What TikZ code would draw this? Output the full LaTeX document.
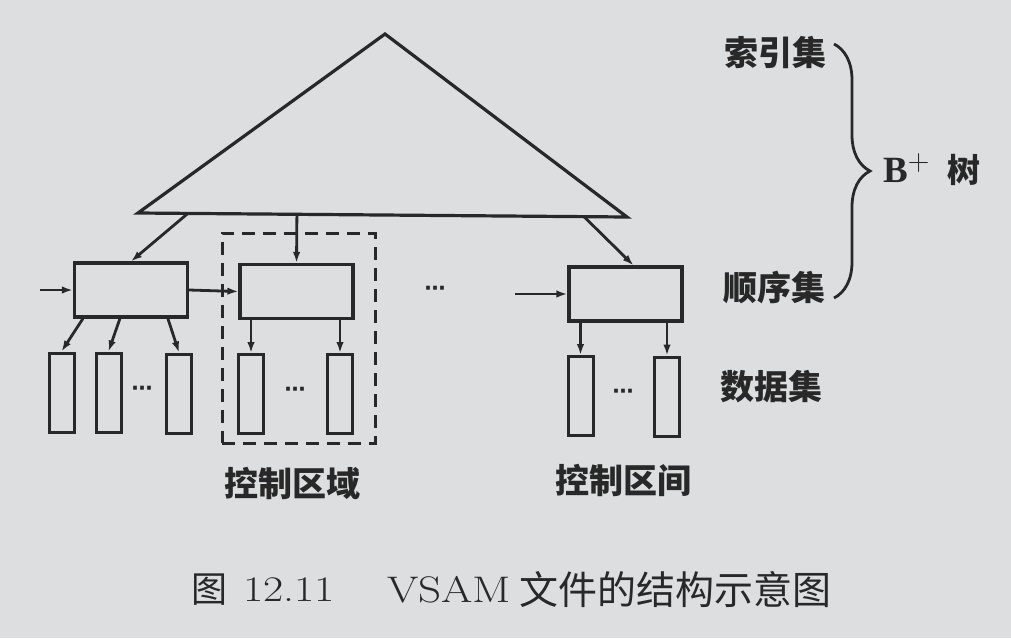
\documentclass[tikz,border=0pt]{standalone}
\usepackage{fontspec}
\usepackage{graphicx}
\newfontfamily\cjk{Noto Sans CJK SC}
\newfontfamily\djv{DejaVu Sans}
\newfontfamily\tms{Liberation Serif}
\usetikzlibrary{arrows.meta,decorations.pathreplacing,calc}
\definecolor{paper}{RGB}{220,222,223}
\definecolor{ink}{RGB}{40,40,40}
\tikzset{
  seqbox/.style={draw=ink,line width=3.2pt,minimum width=113pt,minimum height=54pt,inner sep=0pt},
  databox/.style={draw=ink,line width=3pt,minimum width=25pt,minimum height=79pt,inner sep=0pt},
  arr/.style={draw=ink,line width=2.8pt,-{Latex[length=11pt,width=7.5pt]}},
  lbl/.style={text=ink,font=\cjk\bfseries\fontsize{34}{34}\selectfont,inner sep=0pt},
  dots/.style={text=ink,font=\djv\bfseries\fontsize{21}{21}\selectfont,inner sep=0pt},
  captxt/.style={text=ink,anchor=west,inner sep=0pt}
}
\begin{document}
\begin{tikzpicture}[x=1pt,y=-1pt]
\fill[paper] (0,0) rectangle (1011,638);
\useasboundingbox (0,0) rectangle (1011,638);
% triangle (index set)
\coordinate (A) at (385,34);
\coordinate (BL) at (138,213);
\coordinate (BR) at (627,217);
\draw[ink,line width=3.2pt,line join=miter] (A) -- (BR) -- (BL) -- cycle;
\coordinate (t1) at ($(BL)!0.102!(BR)$);
\coordinate (t2) at ($(BL)!0.325!(BR)$);
\coordinate (t3) at ($(BL)!0.912!(BR)$);
% sequence set boxes
\node[seqbox] (sq1) at (131,290) {};
\node[seqbox] (sq2) at (296.5,291.5) {};
\node[seqbox] (sq3) at (625.5,294) {};
% control area dashed
\node[draw=ink,line width=3pt,dash pattern=on 13pt off 8pt,minimum width=153pt,minimum height=210pt,inner sep=0pt] (ctrl) at (298.5,338) {};
% data boxes
\node[databox] (d1) at (61.5,392.5) {};
\node[databox] (d2) at (108.5,392.5) {};
\node[databox] (d3) at (179,393.5) {};
\node[databox] (d4) at (251,394) {};
\node[databox] (d5) at (340,394) {};
\node[databox] (d6) at (580.5,396) {};
\node[databox] (d7) at (667,396.5) {};
% arrows from triangle
\draw[arr] (t1) -- (sq1.north);
\draw[arr] (t2) -- (sq2.north);
\draw[arr] (t3) -- ([xshift=8pt]sq3.north);
% input arrows
\coordinate (in1) at (40,290);
\coordinate (in3) at (515,294);
\draw[arr] (in1) -- (sq1.west);
\draw[arr] (sq1.east) -- (sq2.west);
\draw[arr] (in3) -- (sq3.west);
% arrows to data boxes
\draw[arr] ([xshift=10pt]sq1.south west) -- (d1.north);
\draw[arr] ([xshift=47pt]sq1.south west) -- (d2.north);
\draw[arr] ([xshift=95pt]sq1.south west) -- (d3.north);
\draw[arr] (d4.north |- sq2.south) -- (d4.north);
\draw[arr] (d5.north |- sq2.south) -- (d5.north);
\draw[arr] (d6.north |- sq3.south) -- (d6.north);
\draw[arr] (d7.north |- sq3.south) -- (d7.north);
% dots
\node[dots] (e1) at (142,391) {⋯};
\node[dots] (e2) at (295,392) {⋯};
\node[dots] (e3) at (435,291) {⋯};
\node[dots] (e4) at (623,394) {⋯};
% labels
\node[lbl] (l1) at (775,52) {索引集};
\node[lbl] (l2) at (774,287) {顺序集};
\node[lbl] (l3) at (771,387) {数据集};
\node[lbl] (l4) at (292,483) {控制区域};
\node[lbl] (l5) at (623,480) {控制区间};
% brace
\coordinate (bt) at (834,44);
\coordinate (bb) at (834,298);
\draw[ink,line width=2.8pt,decorate,decoration={brace,amplitude=36pt,aspect=0.5}] (bt) -- (bb);
\node[text=ink,inner sep=0pt,anchor=base west] (bp) at (883,182) {{\tms\bfseries\fontsize{37}{37}\selectfont B}\raisebox{12pt}{\fontsize{30}{30}\selectfont +}\hspace{18pt}{\cjk\bfseries\fontsize{33}{33}\selectfont 树}};
% caption
\node[captxt] (c1) at (191,590) {\cjk\fontsize{36}{36}\selectfont 图};
\node[captxt] (c2) at (243,590) {\scalebox{1.22}[1]{\fontsize{36}{36}\selectfont 12.11}};
\node[captxt] (c3) at (387,590) {\scalebox{1.22}[1]{\fontsize{37}{37}\selectfont VSAM}};
\node[captxt] (c4) at (519,590) {\cjk\fontsize{39}{39}\selectfont 文件的结构示意图};
\end{tikzpicture}
\end{document}
